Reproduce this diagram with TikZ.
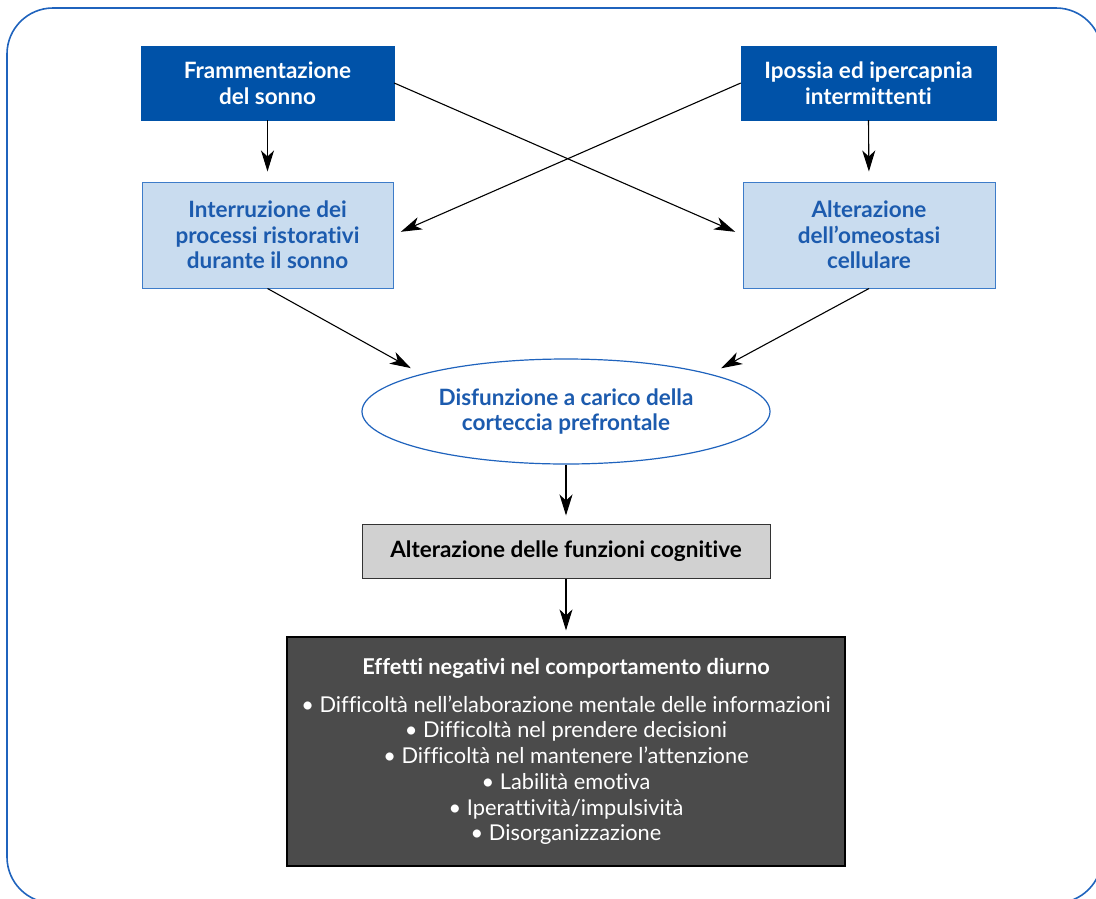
\documentclass[tikz,border=0pt]{standalone}
\usepackage{fontspec}
\setmainfont[Ligatures=NoCommon]{Lato}
\usetikzlibrary{arrows.meta,shapes.geometric}
\definecolor{frameblue}{HTML}{1F63BD}
\definecolor{darkblue}{HTML}{0052A8}
\definecolor{lightblue}{HTML}{C9DCEF}
\definecolor{lbborder}{HTML}{3D7CC9}
\definecolor{bluetext}{HTML}{1C5BAE}
\definecolor{greyfill}{HTML}{D1D1D1}
\definecolor{darkfill}{HTML}{4B4B4B}
\tikzset{
  txt/.style={font=\fontsize{22.5}{25.5}\selectfont\bfseries, align=center, inner sep=0pt},
  topbox/.style={txt, fill=darkblue, draw=darkblue, text=white},
  midbox/.style={txt, fill=lightblue, draw=lbborder, line width=1pt, text=bluetext},
  ellbox/.style={txt, ellipse, draw=frameblue, line width=1.2pt, fill=white, text=bluetext},
  greybox/.style={txt, fill=greyfill, draw=black!80, line width=1pt, text=black},
  darkbox/.style={align=center, inner sep=0pt, fill=darkfill, draw=black, line width=1.2pt, text=white, font=\fontsize{21.8}{25.7}\selectfont},
  arr/.style={line width=1.1pt, -{Stealth[length=21pt,width=13pt,inset=6pt]}}
}
\begin{document}
\begin{tikzpicture}[x=1pt,y=-1pt]
\useasboundingbox (0,0) rectangle (1096,898);
\draw[frameblue, line width=1.6pt, rounded corners=46pt] (7,8) rectangle (1102,903);
\node[topbox, minimum width=253pt, minimum height=74pt] (b1) at (267.5,83) {Frammentazione\\del sonno};
\node[topbox, minimum width=255pt, minimum height=74pt] (b2) at (868.5,83) {Ipossia ed ipercapnia\\intermittenti};
\node[midbox, minimum width=251pt, minimum height=106pt] (b3) at (267.5,235) {Interruzione dei\\processi ristorativi\\durante il sonno};
\node[midbox, minimum width=252pt, minimum height=106pt] (b4) at (869,235) {Alterazione\\dell’omeostasi\\cellulare};
\node[ellbox, minimum width=408pt, minimum height=105pt] (el) at (566,411.5) {Disfunzione a carico della\\corteccia prefrontale};
\node[greybox, minimum width=408pt, minimum height=54pt] (g) at (566,551) {Alterazione delle funzioni cognitive};
\node[darkbox, minimum width=558pt, minimum height=229pt] (d) at (566,751.5) {{\bfseries Effetti negativi nel comportamento diurno}\\[12pt]
• Difficoltà nell’elaborazione mentale delle informazioni\\
• Difficoltà nel prendere decisioni\\
• Difficoltà nel mantenere l’attenzione\\
• Labilità emotiva\\
• Iperattività/impulsività\\
• Disorganizzazione};
\draw[arr, shorten >=10pt] (b1.south) -- (b3.north);
\draw[arr, shorten >=10pt] (b2.south) -- (b4.north);
\draw[arr, shorten >=8pt] (b1.east) -- (b4.west);
\draw[arr, shorten >=8pt] (b2.west) -- (b3.east);
\draw[arr, shorten >=12pt] (b3.south) -- (el.north west);
\draw[arr, shorten >=12pt] (b4.south) -- (el.north east);
\draw[arr, shorten >=8pt] (el.south) -- (g.north);
\draw[arr, shorten >=6pt] (g.south) -- (d.north);
\end{tikzpicture}
\end{document}
